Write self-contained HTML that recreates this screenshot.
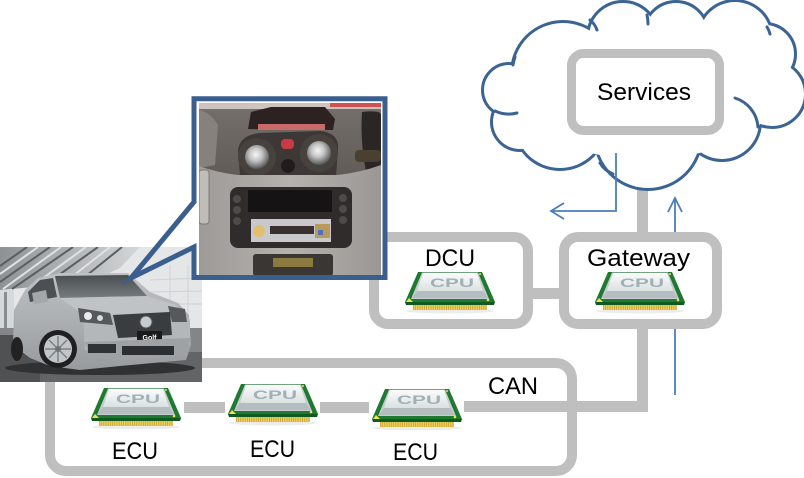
<!DOCTYPE html>
<html><head><meta charset="utf-8"><style>
html,body{margin:0;padding:0;background:#fff;}
svg{display:block;}
text{font-family:"Liberation Sans",sans-serif;}
</style></head><body>
<svg width="804" height="478" viewBox="0 0 804 478" xmlns="http://www.w3.org/2000/svg">
<defs>
 <linearGradient id="lid" x1="0" y1="0" x2="0" y2="1"><stop offset="0" stop-color="#fbfcfc"/><stop offset="1" stop-color="#dbe0e1"/></linearGradient>
 <radialGradient id="knob" cx="0.45" cy="0.4" r="0.6"><stop offset="0" stop-color="#f6f6f6"/><stop offset="0.45" stop-color="#c4c4c4"/><stop offset="1" stop-color="#555"/></radialGradient>
 <linearGradient id="wind" x1="0" y1="0" x2="0" y2="1"><stop offset="0" stop-color="#4a4e51"/><stop offset="1" stop-color="#777c80"/></linearGradient>
 <linearGradient id="body" x1="0" y1="0" x2="0" y2="1"><stop offset="0" stop-color="#bfc2c4"/><stop offset="1" stop-color="#979b9e"/></linearGradient>
 <linearGradient id="ceil" x1="0" y1="0" x2="1" y2="0"><stop offset="0" stop-color="#8e9294"/><stop offset="1" stop-color="#d4d6d7"/></linearGradient>
 <linearGradient id="dashup" x1="0" y1="0" x2="0" y2="1"><stop offset="0" stop-color="#736e6a"/><stop offset="1" stop-color="#615c58"/></linearGradient>
 <linearGradient id="dashlo" x1="0" y1="0" x2="1" y2="0"><stop offset="0" stop-color="#9d9a97"/><stop offset="0.5" stop-color="#b4b1ae"/><stop offset="1" stop-color="#9a9794"/></linearGradient>
 <clipPath id="carclip"><rect x="0" y="247" width="202" height="135"/></clipPath>
 <clipPath id="dashclip"><rect x="199" y="103" width="182" height="172"/></clipPath>
</defs>

<line x1="642.5" y1="130" x2="642.5" y2="237" stroke="#bfbfbf" stroke-width="11"/>

<g fill="none" stroke="#3b6494" stroke-width="6">
 <circle cx="509" cy="90" r="25"/><circle cx="563" cy="73" r="50"/><circle cx="623" cy="37" r="34"/>
 <circle cx="676" cy="34" r="31"/><circle cx="735" cy="38" r="36"/><circle cx="765" cy="54" r="29"/>
 <circle cx="772" cy="94" r="32"/><circle cx="722" cy="122" r="37"/><circle cx="648" cy="136" r="52"/>
 <circle cx="560" cy="123" r="45"/><circle cx="520" cy="122" r="27"/>
</g>
<g fill="#fff">
 <circle cx="509" cy="90" r="25"/><circle cx="563" cy="73" r="50"/><circle cx="623" cy="37" r="34"/>
 <circle cx="676" cy="34" r="31"/><circle cx="735" cy="38" r="36"/><circle cx="765" cy="54" r="29"/>
 <circle cx="772" cy="94" r="32"/><circle cx="722" cy="122" r="37"/><circle cx="648" cy="136" r="52"/>
 <circle cx="560" cy="123" r="45"/><circle cx="520" cy="122" r="27"/>
 <ellipse cx="645" cy="97" rx="128" ry="62"/>
</g>
<g fill="none" stroke="#3b6494" stroke-width="3" stroke-linecap="round">
 <path d="M495,111 Q506,116 517,113"/>
 <path d="M735,98 A33,33 0 0 1 758,127"/>
 <path d="M600,163 Q604,170 613,174"/>
 <path d="M590,20 Q595,24 597,30"/>
 <path d="M647,15 Q648,19 648,24"/>
 <path d="M767,27 Q769,30 770,34"/>
 <path d="M513,65 Q514,60 515,57"/>
</g>

<rect x="571.5" y="53.5" width="148" height="77" rx="12" fill="#fff" stroke="#bfbfbf" stroke-width="9"/>
<text x="597" y="100" font-size="24" textLength="94" lengthAdjust="spacingAndGlyphs" fill="#000">Services</text>

<g fill="none" stroke="#4a7ebb" stroke-width="1.8">
 <path d="M616,153 V211 H552"/>
 <path d="M564,203 L551,211 L564,219"/>
 <path d="M675,236 V199"/>
 <path d="M668,212 L675,198 L682,212"/>
 <path d="M675,329 V395"/>
</g>

<line x1="528" y1="293.5" x2="564" y2="293.5" stroke="#bfbfbf" stroke-width="11"/>
<polyline points="560,406.5 642.5,406.5 642.5,324" fill="none" stroke="#bfbfbf" stroke-width="11" stroke-linejoin="miter"/>

<rect x="374" y="237" width="154" height="87" rx="14" fill="#fff" stroke="#bfbfbf" stroke-width="10"/>
<rect x="564" y="237" width="153" height="87" rx="14" fill="#fff" stroke="#bfbfbf" stroke-width="10"/>

<rect x="50" y="363" width="522" height="108" rx="16" fill="#fff" stroke="#bfbfbf" stroke-width="10"/>
<g stroke="#bfbfbf" stroke-width="11">
 <line x1="184" y1="407.5" x2="225" y2="407.5"/>
 <line x1="320" y1="407.5" x2="369" y2="407.5"/>
 <line x1="464" y1="406.5" x2="580" y2="406.5"/>
</g>

<g transform="translate(405,272)">
 <ellipse cx="45" cy="39" rx="44" ry="2.5" fill="#ececec"/>
 <polygon points="13,0 77,0 90,30 0,30" fill="#1d7a30"/>
 <polygon points="0,30 90,30 89,33 1,33" fill="#0f5a20"/>
 <rect x="8" y="33" width="74" height="5" fill="#ead063"/>
 <line x1="8" y1="35.5" x2="82" y2="35.5" stroke="#c9a32e" stroke-width="5" stroke-dasharray="0.8 1.4"/>
 <polygon points="17,0.5 73,0.5 84,27 6,27" fill="#c6cccf"/>
 <polygon points="18,1 72,1 78,19 12,19" fill="url(#lid)"/>
 <polygon points="12,19 78,19 83,26 7,26" fill="#b6bdc0"/>
 <text x="25" y="15" font-size="12" font-weight="bold" textLength="44" lengthAdjust="spacingAndGlyphs" fill="#a0b0b4">CPU</text>
 <polygon points="1,30 8,30 4,26" fill="#f2e04a"/>
 <circle cx="83" cy="28" r="1.3" fill="#f2e04a"/>
 <circle cx="75" cy="2" r="1" fill="#f2e04a"/>
</g>
<g transform="translate(595,272)">
 <ellipse cx="45" cy="39" rx="44" ry="2.5" fill="#ececec"/>
 <polygon points="13,0 77,0 90,30 0,30" fill="#1d7a30"/>
 <polygon points="0,30 90,30 89,33 1,33" fill="#0f5a20"/>
 <rect x="8" y="33" width="74" height="5" fill="#ead063"/>
 <line x1="8" y1="35.5" x2="82" y2="35.5" stroke="#c9a32e" stroke-width="5" stroke-dasharray="0.8 1.4"/>
 <polygon points="17,0.5 73,0.5 84,27 6,27" fill="#c6cccf"/>
 <polygon points="18,1 72,1 78,19 12,19" fill="url(#lid)"/>
 <polygon points="12,19 78,19 83,26 7,26" fill="#b6bdc0"/>
 <text x="25" y="15" font-size="12" font-weight="bold" textLength="44" lengthAdjust="spacingAndGlyphs" fill="#a0b0b4">CPU</text>
 <polygon points="1,30 8,30 4,26" fill="#f2e04a"/>
 <circle cx="83" cy="28" r="1.3" fill="#f2e04a"/>
 <circle cx="75" cy="2" r="1" fill="#f2e04a"/>
</g>
<g transform="translate(91,388)">
 <ellipse cx="45" cy="39" rx="44" ry="2.5" fill="#ececec"/>
 <polygon points="13,0 77,0 90,30 0,30" fill="#1d7a30"/>
 <polygon points="0,30 90,30 89,33 1,33" fill="#0f5a20"/>
 <rect x="8" y="33" width="74" height="5" fill="#ead063"/>
 <line x1="8" y1="35.5" x2="82" y2="35.5" stroke="#c9a32e" stroke-width="5" stroke-dasharray="0.8 1.4"/>
 <polygon points="17,0.5 73,0.5 84,27 6,27" fill="#c6cccf"/>
 <polygon points="18,1 72,1 78,19 12,19" fill="url(#lid)"/>
 <polygon points="12,19 78,19 83,26 7,26" fill="#b6bdc0"/>
 <text x="25" y="15" font-size="12" font-weight="bold" textLength="44" lengthAdjust="spacingAndGlyphs" fill="#a0b0b4">CPU</text>
 <polygon points="1,30 8,30 4,26" fill="#f2e04a"/>
 <circle cx="83" cy="28" r="1.3" fill="#f2e04a"/>
 <circle cx="75" cy="2" r="1" fill="#f2e04a"/>
</g>
<g transform="translate(228,384)">
 <ellipse cx="45" cy="39" rx="44" ry="2.5" fill="#ececec"/>
 <polygon points="13,0 77,0 90,30 0,30" fill="#1d7a30"/>
 <polygon points="0,30 90,30 89,33 1,33" fill="#0f5a20"/>
 <rect x="8" y="33" width="74" height="5" fill="#ead063"/>
 <line x1="8" y1="35.5" x2="82" y2="35.5" stroke="#c9a32e" stroke-width="5" stroke-dasharray="0.8 1.4"/>
 <polygon points="17,0.5 73,0.5 84,27 6,27" fill="#c6cccf"/>
 <polygon points="18,1 72,1 78,19 12,19" fill="url(#lid)"/>
 <polygon points="12,19 78,19 83,26 7,26" fill="#b6bdc0"/>
 <text x="25" y="15" font-size="12" font-weight="bold" textLength="44" lengthAdjust="spacingAndGlyphs" fill="#a0b0b4">CPU</text>
 <polygon points="1,30 8,30 4,26" fill="#f2e04a"/>
 <circle cx="83" cy="28" r="1.3" fill="#f2e04a"/>
 <circle cx="75" cy="2" r="1" fill="#f2e04a"/>
</g>
<g transform="translate(372,389)">
 <ellipse cx="45" cy="39" rx="44" ry="2.5" fill="#ececec"/>
 <polygon points="13,0 77,0 90,30 0,30" fill="#1d7a30"/>
 <polygon points="0,30 90,30 89,33 1,33" fill="#0f5a20"/>
 <rect x="8" y="33" width="74" height="5" fill="#ead063"/>
 <line x1="8" y1="35.5" x2="82" y2="35.5" stroke="#c9a32e" stroke-width="5" stroke-dasharray="0.8 1.4"/>
 <polygon points="17,0.5 73,0.5 84,27 6,27" fill="#c6cccf"/>
 <polygon points="18,1 72,1 78,19 12,19" fill="url(#lid)"/>
 <polygon points="12,19 78,19 83,26 7,26" fill="#b6bdc0"/>
 <text x="25" y="15" font-size="12" font-weight="bold" textLength="44" lengthAdjust="spacingAndGlyphs" fill="#a0b0b4">CPU</text>
 <polygon points="1,30 8,30 4,26" fill="#f2e04a"/>
 <circle cx="83" cy="28" r="1.3" fill="#f2e04a"/>
 <circle cx="75" cy="2" r="1" fill="#f2e04a"/>
</g>

<g font-size="24" fill="#000">
 <text x="425" y="266" textLength="50" lengthAdjust="spacingAndGlyphs">DCU</text>
 <text x="587" y="266" textLength="103" lengthAdjust="spacingAndGlyphs">Gateway</text>
 <text x="488" y="394" textLength="50" lengthAdjust="spacingAndGlyphs">CAN</text>
 <text x="112" y="459" textLength="46" lengthAdjust="spacingAndGlyphs">ECU</text>
 <text x="250" y="457" textLength="45" lengthAdjust="spacingAndGlyphs">ECU</text>
 <text x="393" y="460" textLength="45" lengthAdjust="spacingAndGlyphs">ECU</text>
</g>

<!-- car photo -->
<g clip-path="url(#carclip)">
 <rect x="0" y="247" width="202" height="135" fill="#e4e6e7"/>
 <polygon points="0,247 140,247 120,268 90,282 0,290" fill="url(#ceil)"/>
 <g stroke="#5a5f62" stroke-width="2">
  <line x1="0" y1="266" x2="27" y2="247"/><line x1="0" y1="282" x2="50" y2="247"/>
  <line x1="12" y1="289" x2="73" y2="247"/><line x1="42" y1="287" x2="98" y2="247"/>
  <line x1="76" y1="284" x2="122" y2="247"/>
 </g>
 <g stroke="#dfe1e2" stroke-width="2">
  <line x1="0" y1="274" x2="38" y2="247"/><line x1="3" y1="289" x2="61" y2="247"/>
  <line x1="28" y1="289" x2="86" y2="247"/><line x1="60" y1="286" x2="110" y2="247"/>
 </g>
 <g stroke="#cfd2d3" stroke-width="1"><line x1="150" y1="280" x2="202" y2="278"/><line x1="150" y1="292" x2="202" y2="291"/><line x1="155" y1="304" x2="202" y2="304"/><line x1="170" y1="265" x2="170" y2="335"/><line x1="188" y1="265" x2="188" y2="335"/></g>
 <rect x="0" y="290" width="14" height="50" fill="#d6d9da"/>
 <rect x="4" y="292" width="3" height="46" fill="#8a8e90"/>
 <rect x="0" y="328" width="202" height="54" fill="#838587"/>
 <rect x="0" y="352" width="202" height="30" fill="#626466"/>
 <rect x="0" y="335" width="40" height="47" fill="#4f5153"/>
 <ellipse cx="100" cy="368" rx="95" ry="7" fill="#303132"/>
 <path d="M13,345 L14,310 L25,290 L38,278 L60,273 L128,273 L150,292 L178,303 L189,315 L191,345 L186,360 L120,366 L80,370 L50,366 L30,358 Z" fill="url(#body)"/>
 <path d="M55,276 L128,275 L147,296 L60,298 Z" fill="url(#wind)"/>
 <path d="M28,292 L40,280 L53,278 L57,297 L30,302 Z" fill="#4b5054"/>
 <path d="M60,298 L147,296 L176,305 L180,312 L85,316 Z" fill="#c0c3c5"/>
 <path d="M83,316 L183,311 L190,320 L190,345 L120,352 L85,350 Z" fill="#b3b7b9"/>
 <path d="M78,308 L110,313 L113,325 L80,322 Z" fill="#55595c"/>
 <circle cx="88" cy="316" r="4" fill="#e8eaeb"/><circle cx="100" cy="318" r="3" fill="#d8dadb"/>
 <path d="M168,306 L185,309 L187,322 L172,322 Z" fill="#55595c"/>
 <path d="M113,315 L170,312 L172,335 L118,338 Z" fill="#3a3d40"/>
 <circle cx="146" cy="322" r="6" fill="#c8cbcd" stroke="#555" stroke-width="1"/>
 <rect x="137" y="331" width="25" height="12" fill="#1a1a1a"/>
 <text x="149.5" y="340" font-size="7" font-weight="bold" fill="#fff" text-anchor="middle">Golf</text>
 <path d="M85,342 L190,338 L188,355 L125,360 L90,358 Z" fill="#9ea2a5"/>
 <rect x="88" y="344" width="28" height="9" fill="#303335"/>
 <rect x="122" y="346" width="52" height="9" fill="#2c2f31"/>
 <path d="M32,293 L46,290 L48,302 L34,304 Z" fill="#a3a7aa"/>
 <ellipse cx="17" cy="349" rx="6" ry="12" fill="#222"/>
 <circle cx="58" cy="349" r="19" fill="#1f2022"/>
 <circle cx="58" cy="349" r="14" fill="#c3c6c8"/>
 <g stroke="#7d8183" stroke-width="1.5"><line x1="58" y1="336" x2="58" y2="362"/><line x1="45" y1="349" x2="71" y2="349"/><line x1="49" y1="340" x2="67" y2="358"/><line x1="67" y1="340" x2="49" y2="358"/></g>
 <circle cx="58" cy="349" r="3" fill="#6f7375"/>
</g>

<rect x="196" y="101" width="187" height="174" fill="#fff"/>
<path d="M194,98.7 H385 V277.5 H194 V247 L131,278 L194,202 Z" fill="none" stroke="#3a5f8f" stroke-width="5" stroke-linejoin="miter" stroke-miterlimit="10"/>

<g clip-path="url(#dashclip)">
 <rect x="199" y="103" width="182" height="172" fill="#8a8582"/>
 <rect x="199" y="103" width="182" height="8" fill="#cdc4c2"/>
 <rect x="330" y="103" width="51" height="4" fill="#d25050"/>
 <rect x="199" y="109" width="182" height="66" fill="url(#dashup)"/>
 <path d="M199,110 Q210,112 218,125 L215,165 L199,168 Z" fill="#86817d"/>
 <path d="M248,129 L251,112 L271,107 L325,107 L335,119 L333,130 Z" fill="#2c2222"/>
 <rect x="258" y="124" width="67" height="6" fill="#c96a6a"/>
 <path d="M238,150 Q240,135 260,133 L320,131 Q340,133 338,150 L336,176 L240,176 Z" fill="#3d3835"/>
 <circle cx="257" cy="157" r="19" fill="#48423f"/>
 <circle cx="319" cy="153" r="19" fill="#48423f"/>
 <circle cx="257" cy="157" r="12" fill="url(#knob)"/>
 <circle cx="319" cy="153" r="12" fill="url(#knob)"/>
 <rect x="281" y="139" width="13" height="10" rx="4" fill="#c83a44"/>
 <circle cx="288" cy="166" r="7" fill="#1f1c1b"/>
 <path d="M362,112 Q381,110 381,115 L381,175 L366,172 Q360,140 362,112 Z" fill="#2a2624"/>
 <rect x="355" y="150" width="26" height="12" rx="4" fill="#4a4030"/>
 <path d="M199,166 Q215,172 238,175 L338,175 Q362,172 381,165 L381,275 L199,275 Z" fill="url(#dashlo)"/>
 <rect x="199" y="170" width="10" height="54" rx="3" fill="#c0bcb8" stroke="#7d7874" stroke-width="1"/>
 <rect x="230" y="187" width="122" height="61" rx="8" fill="#2f2c2b"/>
 <rect x="248" y="190" width="84" height="22" fill="#151313"/>
 <g fill="#4f4a48"><circle cx="237" cy="199" r="4"/><circle cx="237" cy="210" r="4"/><circle cx="237" cy="221" r="4"/><circle cx="343" cy="198" r="4"/><circle cx="343" cy="209" r="4"/><circle cx="343" cy="220" r="4"/></g>
 <rect x="251" y="219" width="80" height="23" fill="#c9c8cc"/>
 <circle cx="259" cy="231" r="6" fill="#e0c070"/>
 <rect x="270" y="226" width="44" height="8" fill="#3a3030"/>
 <rect x="315" y="224" width="15" height="14" fill="#b89a5a"/>
 <rect x="318" y="230" width="5" height="5" fill="#5070c0"/>
 <rect x="253" y="254" width="80" height="22" rx="3" fill="#3a3634"/>
 <rect x="273" y="258" width="40" height="9" fill="#8a7a40"/>
</g>
</svg>
</body></html>
